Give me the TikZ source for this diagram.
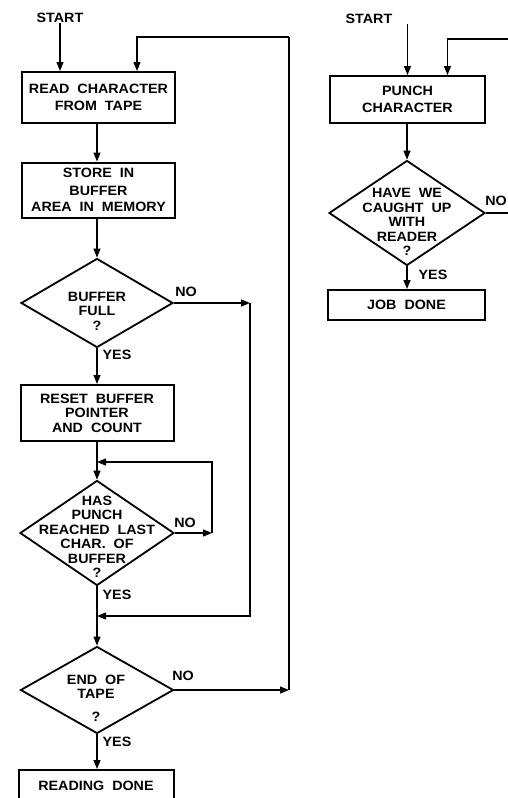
\documentclass[tikz,border=0pt]{standalone}
\usepackage{fontspec}
\usetikzlibrary{shapes.geometric,arrows.meta,calc}
\newfontfamily\flw{Liberation Sans}[FakeStretch=1.06,WordSpace=2.0]
\begin{document}
\begin{tikzpicture}[x=1pt,y=-1pt,
  lbl/.style={font=\flw\bfseries\fontsize{13.5}{14.5}\selectfont, align=center, inner sep=0pt},
  box/.style={lbl, draw, line width=2pt, minimum width=153pt},
  dia/.style={draw, shape=diamond, line width=1.8pt, inner sep=0pt},
  arr/.style={line width=1.2pt, -{Triangle[length=9pt,width=7pt]}},
  ln/.style={line width=1.2pt}]
\useasboundingbox (0,0) rectangle (508,798);
\clip (0,0) rectangle (508,798);

% ---------- left flowchart ----------
\node[lbl] (startL) at (60,18) {START};
\node[box, minimum height=51pt] (read) at (98.5,97.5) {READ CHARACTER\\[2pt]FROM TAPE};
\node[box, minimum height=55pt] (store) at (98.5,190) {STORE IN\\[3pt]BUFFER\\[2pt]AREA IN MEMORY};
\node[dia, minimum width=152pt, minimum height=89pt] (d1) at (97,303) {};
\node[lbl] (t1) at (97,311) {BUFFER\\FULL\\?};
\node[box, minimum height=56pt] (reset) at (97,413) {RESET BUFFER\\POINTER\\AND COUNT};
\node[dia, minimum width=154pt, minimum height=105pt] (d2) at (97,533) {};
\node[lbl] (t2) at (97,537) {HAS\\PUNCH\\REACHED LAST\\CHAR. OF\\BUFFER\\?};
\node[dia, minimum width=153pt, minimum height=87pt] (d3) at (97,690) {};
\node[lbl] (t3) at (96,698) {END OF\\TAPE\\[8pt]?};
\node[box, minimum width=155pt, minimum height=32pt] (done) at (96,786) {READING DONE};

\node[lbl] (no1) at (186,292) {NO};
\node[lbl] (yes1) at (117,355) {YES};
\node[lbl] (no2) at (185,523) {NO};
\node[lbl] (yes2) at (117,595) {YES};
\node[lbl] (no3) at (183,676) {NO};
\node[lbl] (yes3) at (117,742) {YES};

\coordinate (rin) at ($(read.north)+(38.5,0)$);
\coordinate (ctop) at (289,37);
\coordinate (c1) at (250,303);
\coordinate (m1) at (97,616);
\coordinate (c2) at (212,533);
\coordinate (m2) at (97,462);
\coordinate (c3) at (289,690);

\draw[arr] (startL.south) -- (startL.south |- read.north);
\draw[arr] (read.south -| d1.north) -- (store.north -| d1.north);
\draw[arr] (store.south -| d1.north) -- (d1.north);
\draw[arr] (d1.south) -- (d1.south |- reset.north);
\draw[ln] (reset.south -| m2) -- (m2);
\draw[arr] (m2) -- (d2.north);
\draw[ln] (d2.south) -- (m1);
\draw[arr] (m1) -- (d3.north);
\draw[arr] (d3.south) -- (d3.south |- done.north);

\draw[arr] (d1.east) -- (c1);
\draw[arr] (c1) |- (m1);
\draw[arr] (d2.east) -- (c2);
\draw[arr] (c2) |- (m2);
\draw[arr] (d3.east) -- (c3);
\draw[ln] (c3) |- (ctop);
\draw[arr] (ctop) -| (rin);

% ---------- right flowchart ----------
\node[lbl] (startR) at (369,19) {START};
\node[box, minimum width=155pt, minimum height=47pt] (punch) at (407.5,99.5) {PUNCH\\[2pt]CHARACTER};
\node[dia, minimum width=156pt, minimum height=105pt] (rd) at (407,213) {};
\node[lbl] (rt) at (407,222) {HAVE WE\\CAUGHT UP\\WITH\\READER\\?};
\node[box, minimum width=157pt, minimum height=30pt] (job) at (406.5,305) {JOB DONE};
\node[lbl] (rno) at (496,201) {NO};
\node[lbl] (ryes) at (433,275) {YES};

\coordinate (pin) at ($(punch.north)+(40,0)$);
\coordinate (redge) at (515,39);
\coordinate (rnoend) at (515,213);

\draw[arr] (startR.south -| punch.north) -- (punch.north);
\draw[arr] (redge) -| (pin);
\draw[arr] (punch.south -| rd.north) -- (rd.north);
\draw[arr] (rd.south) -- (rd.south |- job.north);
\draw[ln] (rd.east) -- (rnoend);
\end{tikzpicture}
\end{document}
